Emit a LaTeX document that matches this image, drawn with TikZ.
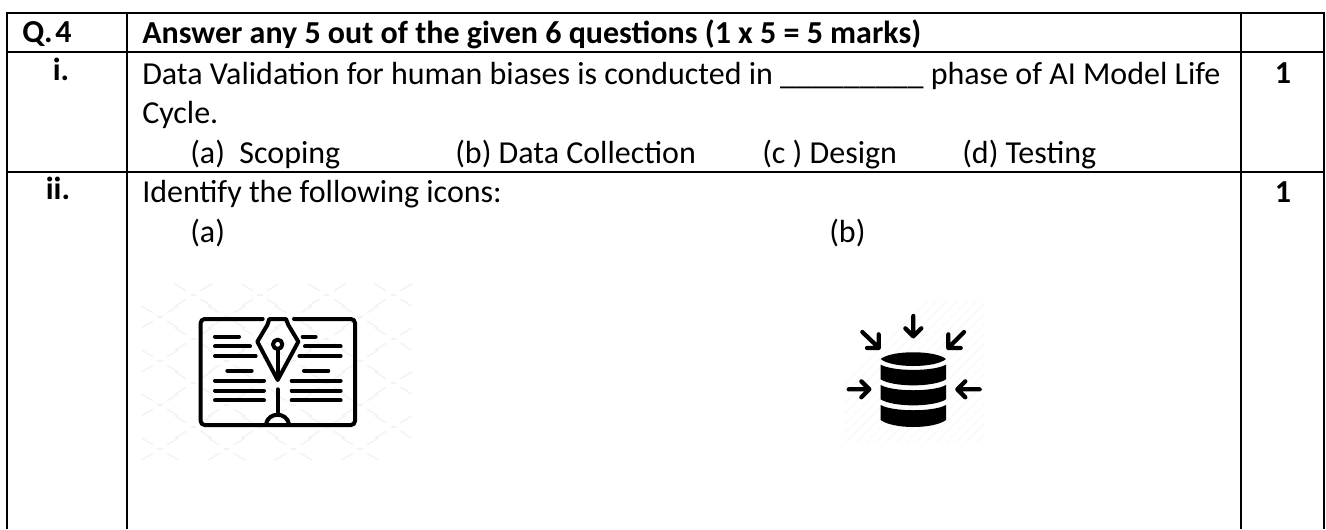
\documentclass[tikz,border=0pt]{standalone}
\usepackage{fontspec}
\setmainfont{Carlito}
\definecolor{wm}{gray}{0.95}
\definecolor{hatch}{gray}{0.965}
\tikzset{
  rule/.style={line width=1.6pt,black},
  txt/.style={anchor=base west,inner sep=0pt,font=\fontsize{24pt}{28pt}\selectfont},
  bold/.style={txt,font=\fontsize{24pt}{28pt}\selectfont\bfseries},
  ctr/.style={bold,anchor=base},
  ink/.style={line width=3pt,black,line cap=round,line join=round},
  inkthin/.style={line width=3.2pt,black,line cap=round,line join=round},
  arm/.style={line width=1pt,wm,line cap=round},
}
\begin{document}
\begin{tikzpicture}[x=0.75pt,y=-0.75pt]
\useasboundingbox (0,0) rectangle (1326,529);
\fill[white] (0,0) rectangle (1326,529);
% table rules
\draw[rule] (7,529) -- (7,13) -- (1324,13) -- (1324,529);
\draw[rule] (127,13) -- (127,529);
\draw[rule] (1241,13) -- (1241,529);
\draw[rule] (7,52) -- (1324,52);
\draw[rule] (7,172) -- (1324,172);
% texts
\node[bold] (q) at (22,42) {Q.\hspace{0.08em}4};
\node[bold] (head) at (142,43) {Answer any 5 out of the given 6 questions (1 x 5 = 5 marks)};
\node[ctr] (ri) at (61,80) {i.};
\node[ctr] (rii) at (58,199) {ii.};
\node[txt] (l1) at (142,84) {Data Validation for human biases is conducted in \_\_\_\_\_\_\_\_\_ phase of AI Model Life};
\node[ctr] (m1) at (1283,83) {1};
\node[txt] (l2) at (142,123) {Cycle.};
\node[txt] (oa) at (190,163) {(a)\ \ Scoping};
\node[txt] (ob) at (455,163) {(b) Data Collection};
\node[txt] (oc) at (762,163) {(c ) Design};
\node[txt] (od) at (962,163) {(d) Testing};
\node[txt] (l3) at (142,202) {Identify the following icons:};
\node[ctr] (m2) at (1283,202) {1};
\node[txt] (ia) at (190,242) {(a)};
\node[txt] (ib) at (829,242) {(b)};
% book icon, in 3x crop coordinates
\begin{scope}[shift={(120,280)},x=0.25pt,y=-0.25pt]
  \foreach \cy/\ox in {45/220,111/120,177/220,243/120,309/220,375/120,441/220,507/120}{
    \foreach \k in {0,1,2,3}{
      \pgfmathsetmacro{\cx}{\ox+200*\k}
      \draw[arm] (\cx-22,\cy-13) -- (\cx-55,\cy-33);
      \draw[arm] (\cx+22,\cy-13) -- (\cx+55,\cy-33);
      \draw[arm] (\cx-22,\cy+13) -- (\cx-55,\cy+33);
      \draw[arm] (\cx+22,\cy+13) -- (\cx+55,\cy+33);
      \fill[wm] (\cx-8,\cy-3) rectangle (\cx+8,\cy+3);
    }
  }
  \draw[ink,rounded corners=3pt] (428,117) -- (242,117) -- (242,435) -- (705,435) -- (705,117) -- (522,117);
  % nib
  \draw[ink] (448,117) -- (498,117) -- (505,135) -- (535,185) -- (473,300) -- (412,185) -- (442,135) -- cycle;
  \draw[ink] (473,193) circle[radius=14];
  \draw[ink] (473,208) -- (473,295);
  \draw[ink] (473,328) -- (473,400);
  \draw[ink] (438,432) .. controls (445,395) and (500,395) .. (507,432);
  % text lines
  \foreach \a/\b/\yy in {285/357/170,285/390/199,285/407/228,322/395/272,285/432/302,285/432/332,285/432/361,
                          548/587/170,555/662/199,538/662/228,552/625/272,515/662/302,515/662/332,515/662/361}{
    \draw[ink] (\a,\yy) -- (\b,\yy);
  }
\end{scope}
% database icon, in 3x crop coordinates
\begin{scope}[shift={(800,290)},x=0.25pt,y=-0.25pt]
  \begin{scope}
    \clip (135,33) rectangle (552,455);
    \foreach \k in {-40,-10,...,860}{
      \draw[hatch,line width=0.5pt] (\k,455) -- (\k+422,33);
    }
  \end{scope}
  \fill (242,207) .. controls (275,180) and (405,180) .. (438,207) .. controls (405,235) and (275,235) .. (242,207) -- cycle;
  \fill (242,224) .. controls (280,245) and (400,245) .. (438,224) -- (438,268) .. controls (400,292) and (280,292) .. (242,268) -- cycle;
  \fill (242,285) .. controls (280,306) and (400,306) .. (438,285) -- (438,328) .. controls (400,352) and (280,352) .. (242,328) -- cycle;
  \fill (242,345) .. controls (280,366) and (400,366) .. (438,345) -- (438,390) .. controls (400,418) and (280,418) .. (242,390) -- cycle;
  \draw[inkthin] (340,78) -- (340,138) (316,115) -- (340,139) -- (364,115);
  \draw[inkthin] (146,298) -- (206,298) (184,274) -- (208,298) -- (184,322);
  \draw[inkthin] (539,298) -- (475,298) (496,274) -- (472,298) -- (496,322);
  \draw[inkthin] (187,126) -- (236,173) (236,133) -- (236,174) -- (201,174);
  \draw[inkthin] (492,126) -- (445,173) (445,133) -- (445,174) -- (482,174);
\end{scope}
\end{tikzpicture}
\end{document}
